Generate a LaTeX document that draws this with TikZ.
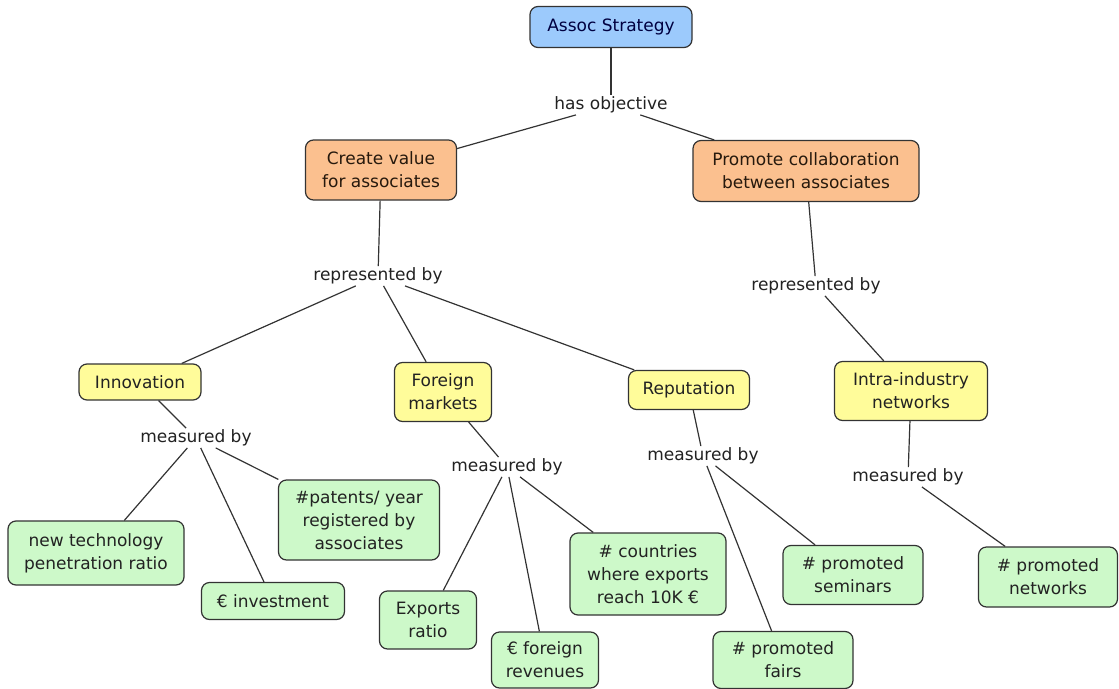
\documentclass[tikz,border=0pt]{standalone}
\usepackage{fontspec}
\setmainfont{DejaVu Sans}
\definecolor{rootfill}{HTML}{9CCAFC}
\definecolor{goalfill}{HTML}{FBC08F}
\definecolor{areafill}{HTML}{FFFC9A}
\definecolor{metricfill}{HTML}{CDF9C9}
\definecolor{edge}{HTML}{333333}
\definecolor{ink}{HTML}{222222}
\begin{document}
\begin{tikzpicture}[x=1pt,y=-1pt,
  every node/.style={font=\fontsize{17}{23}\selectfont, text=ink, align=center},
  concept/.style 2 args={draw=edge, line width=1.2pt, rounded corners=8pt,
    minimum width=#1 pt, minimum height=#2 pt, inner sep=2pt},
  rootbox/.style={fill=rootfill, text=blue!25!black},
  goalbox/.style={fill=goalfill, text=black!80!brown},
  areabox/.style={fill=areafill},
  metricbox/.style={fill=metricfill},
  link/.style={fill=white, inner sep=1.5pt},
  conn/.style={draw=edge, line width=1.2pt}
]
\useasboundingbox (0,0) rectangle (1119,688);

% concepts
\node[concept={162}{41}, rootbox] (root) at (611,27) {Assoc Strategy};
\node[concept={151}{60}, goalbox] (value) at (381,170) {Create value\\for associates};
\node[concept={226}{61}, goalbox] (collab) at (806,171) {Promote collaboration\\between associates};
\node[concept={122}{36}, areabox] (innov) at (140,382) {Innovation};
\node[concept={97}{59}, areabox] (foreign) at (443,392) {Foreign\\markets};
\node[concept={121}{39}, areabox] (rep) at (689,390) {Reputation};
\node[concept={153}{59}, areabox] (intra) at (911,391) {Intra-industry\\networks};
\node[concept={176}{64}, metricbox] (tech) at (96,553) {new technology\\penetration ratio};
\node[concept={143}{37}, metricbox] (invest) at (273,601) {€ investment};
\node[concept={161}{80}, metricbox] (patents) at (359,520) {\#patents/ year\\registered by\\associates};
\node[concept={97}{58}, metricbox] (exports) at (428,620) {Exports\\ratio};
\node[concept={107}{56}, metricbox] (revenues) at (545,660) {€ foreign\\revenues};
\node[concept={156}{82}, metricbox] (countries) at (648,574) {\# countries\\where exports\\reach 10K €};
\node[concept={140}{57}, metricbox] (fairs) at (783,660) {\# promoted\\fairs};
\node[concept={140}{59}, metricbox] (seminars) at (853,575) {\# promoted\\seminars};
\node[concept={139}{60}, metricbox] (networks) at (1048,577) {\# promoted\\networks};

% linking phrases
\node[link] (obj) at (611,105) {has objective};
\node[link] (repL) at (378,276) {represented by};
\node[link] (repR) at (816,286) {represented by};
\node[link] (mInnov) at (196,438) {measured by};
\node[link] (mForeign) at (507,467) {measured by};
\node[link] (mRep) at (703,456) {measured by};
\node[link] (mIntra) at (908,477) {measured by};

% connectors
\draw[conn] (root) -- (obj);
\draw[conn] (obj) -- (value);
\draw[conn] (obj) -- (collab);
\draw[conn] (value) -- (repL);
\draw[conn] (repL) -- (innov);
\draw[conn] (repL) -- (foreign);
\draw[conn] (repL) -- (rep);
\draw[conn] (collab) -- (repR);
\draw[conn] (repR) -- (intra);
\draw[conn] (innov) -- (mInnov);
\draw[conn] (mInnov) -- (tech);
\draw[conn] (mInnov) -- (invest);
\draw[conn] (mInnov) -- (patents);
\draw[conn] (foreign) -- (mForeign);
\draw[conn] (mForeign) -- (exports);
\draw[conn] (mForeign) -- (revenues);
\draw[conn] (mForeign) -- (countries);
\draw[conn] (rep) -- (mRep);
\draw[conn] (mRep) -- (fairs);
\draw[conn] (mRep) -- (seminars);
\draw[conn] (intra) -- (mIntra);
\draw[conn] (mIntra) -- (networks);
\end{tikzpicture}
\end{document}
